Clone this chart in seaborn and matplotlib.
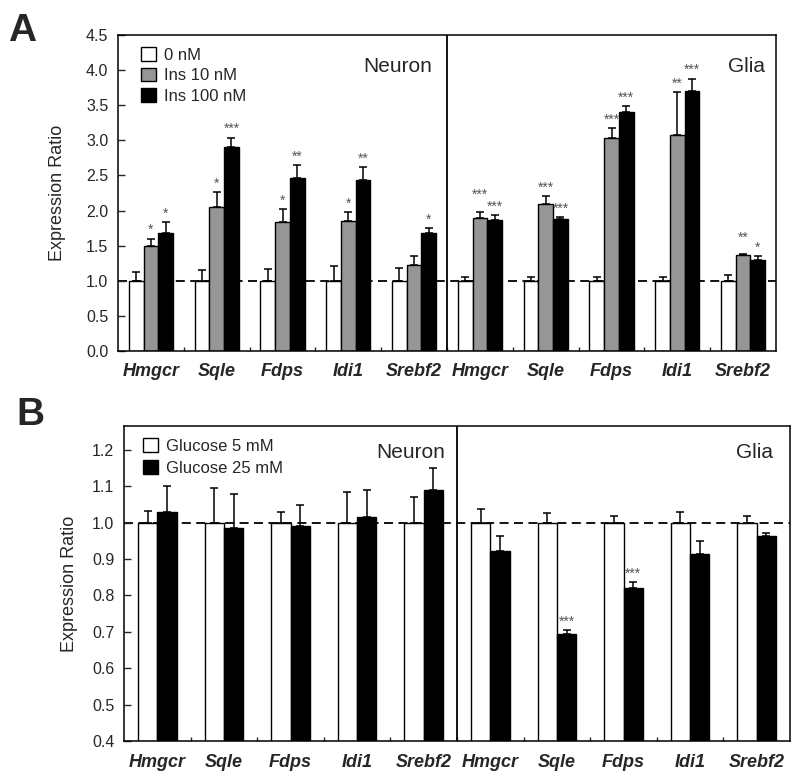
import numpy as np
import pandas as pd
import matplotlib
matplotlib.use('Agg')
import matplotlib.pyplot as plt
import seaborn as sns
from matplotlib.patches import Patch

# genes measured in each cell type
genes = ['Hmgcr', 'Sqle', 'Fdps', 'Idi1', 'Srebf2']
cells = ['Neuron', 'Glia']

# Panel A: insulin treatment (neuron genes first, then glia genes)
ins_levels = ['0 nM', 'Ins 10 nM', 'Ins 100 nM']
ins_mean_0 = [1.0, 1.0, 1.0, 1.0, 1.0, 1.0, 1.0, 1.0, 1.0, 1.0]
ins_err_0 = [0.12, 0.16, 0.17, 0.21, 0.18, 0.06, 0.05, 0.05, 0.05, 0.08]
ins_mean_10 = [1.50, 2.05, 1.83, 1.85, 1.22, 1.90, 2.10, 3.04, 3.07, 1.37]
ins_err_10 = [0.10, 0.21, 0.19, 0.13, 0.13, 0.08, 0.10, 0.13, 0.62, 0.01]
ins_mean_100 = [1.68, 2.90, 2.47, 2.43, 1.68, 1.86, 1.88, 3.40, 3.70, 1.30]
ins_err_100 = [0.15, 0.14, 0.18, 0.19, 0.07, 0.08, 0.03, 0.09, 0.18, 0.05]
ins_sig_0 = [''] * 10
ins_sig_10 = ['*', '*', '*', '*', '', '***', '***', '***', '**', '**']
ins_sig_100 = ['*', '***', '**', '**', '*', '***', '***', '***', '***', '*']

# Panel B: glucose treatment
glc_levels = ['Glucose 5 mM', 'Glucose 25 mM']
glc_mean_5 = [1.0, 1.0, 1.0, 1.0, 1.0, 1.0, 1.0, 1.0, 1.0, 1.0]
glc_err_5 = [0.033, 0.096, 0.029, 0.083, 0.069, 0.038, 0.026, 0.019, 0.029, 0.017]
glc_mean_25 = [1.028, 0.985, 0.990, 1.015, 1.089, 0.923, 0.694, 0.821, 0.913, 0.963]
glc_err_25 = [0.071, 0.092, 0.057, 0.074, 0.062, 0.041, 0.011, 0.015, 0.037, 0.008]
glc_sig_5 = [''] * 10
glc_sig_25 = ['', '', '', '', '', '', '***', '***', '', '']

sns.set_style('ticks')
plt.rcParams['font.family'] = ['Liberation Sans', 'DejaVu Sans']

keys = [f'{c}|{g}' for c in cells for g in genes]


def draw_panel(ax, levels, means, errs, sigs, palette, width, ylim):
    df = pd.DataFrame({
        'key': keys * len(levels),
        'level': np.repeat(levels, len(keys)),
        'ratio': np.concatenate(means),
    })
    ax.axhline(1.0, color='black', ls=(0, (5, 3)), lw=1.3, zorder=0)
    sns.barplot(data=df, x='key', y='ratio', hue='level', order=keys,
                hue_order=levels, palette=palette, saturation=1,
                edgecolor='black', linewidth=1.0, width=width,
                errorbar=None, legend=False, ax=ax, zorder=2)
    ax.set_ylim(*ylim)
    span = ylim[1] - ylim[0]
    xs_all, caps_all = [], []
    for cont, err in zip(ax.containers, errs):
        xs = [p.get_x() + p.get_width() / 2 for p in cont]
        ys = [p.get_height() for p in cont]
        ax.errorbar(xs, ys, yerr=[np.zeros(len(err)), err], fmt='none',
                    ecolor='black', elinewidth=1.1, capsize=3.2,
                    capthick=1.1, zorder=3)
        xs_all.append(xs)
        caps_all.append([y + e for y, e in zip(ys, err)])
    # significance stars; stagger neighbours whose caps are at similar height
    n = len(levels)
    for h in range(n):
        for i, s in enumerate(sigs[h]):
            if not s:
                continue
            lift = 1
            if h + 1 < n and sigs[h + 1][i] and \
                    abs(caps_all[h][i] - caps_all[h + 1][i]) < 0.03 * span:
                lift = 7
            ax.annotate(s, (xs_all[h][i], caps_all[h][i]), xytext=(0, lift),
                        textcoords='offset points', ha='center',
                        va='bottom', fontsize=10, color='#555555')
    ax.axvline(4.5, color='black', lw=1.3)
    ax.set_xlim(-0.5, 9.5)
    ax.set_xticks(range(len(keys)))
    ax.set_xticklabels(genes * 2, fontsize=13, fontweight='bold',
                       fontstyle='italic')
    ax.set_xticks(np.arange(0.5, 9.5, 1.0), minor=True)
    ax.tick_params(axis='x', which='major', length=0, pad=9)
    ax.tick_params(axis='x', which='minor', direction='in', length=3,
                   width=1.0)
    ax.tick_params(axis='y', direction='in', length=5, width=1.0,
                   labelsize=11.5, pad=7)
    ax.set_xlabel('')
    ax.set_ylabel('Expression Ratio', fontsize=13)
    for sp in ax.spines.values():
        sp.set_linewidth(1.1)
        sp.set_color('black')
    handles = [Patch(facecolor=c, edgecolor='black', linewidth=1.0)
               for c in palette]
    return handles


fig = plt.figure(figsize=(8, 7.84), dpi=100)

# Panel A
axA = fig.add_axes([0.1475, 0.5523, 0.8225, 0.4031])
hA = draw_panel(axA, ins_levels,
                [ins_mean_0, ins_mean_10, ins_mean_100],
                [ins_err_0, ins_err_10, ins_err_100],
                [ins_sig_0, ins_sig_10, ins_sig_100],
                ['white', '#969696', 'black'], 0.67, (0, 4.5))
axA.set_yticks(np.arange(0, 4.51, 0.5))
axA.set_yticklabels([f'{v:.1f}' for v in np.arange(0, 4.51, 0.5)])
axA.yaxis.labelpad = 14
axA.legend(hA, ins_levels, loc='upper left', bbox_to_anchor=(0.035, 0.962),
           frameon=False, fontsize=12, handlelength=0.9, handleheight=0.9,
           handletextpad=0.5, labelspacing=0.3, borderaxespad=0,
           borderpad=0)
axA.text(0.477, 0.883, 'Neuron', transform=axA.transAxes, ha='right',
         va='baseline', fontsize=15)
axA.text(0.983, 0.883, 'Glia', transform=axA.transAxes, ha='right',
         va='baseline', fontsize=15)

# Panel B
axB = fig.add_axes([0.155, 0.0548, 0.8325, 0.4018])
hB = draw_panel(axB, glc_levels,
                [glc_mean_5, glc_mean_25],
                [glc_err_5, glc_err_25],
                [glc_sig_5, glc_sig_25],
                ['white', 'black'], 0.58, (0.4, 1.265))
axB.set_yticks(np.arange(0.4, 1.21, 0.1))
axB.set_yticklabels([f'{v:.1f}' for v in np.arange(0.4, 1.21, 0.1)])
axB.yaxis.labelpad = 10
axB.legend(hB, glc_levels, loc='upper left', bbox_to_anchor=(0.0285, 0.962),
           frameon=False, fontsize=12, handlelength=0.9, handleheight=0.9,
           handletextpad=0.5, labelspacing=0.4, borderaxespad=0,
           borderpad=0)
axB.text(0.482, 0.898, 'Neuron', transform=axB.transAxes, ha='right',
         va='baseline', fontsize=15)
axB.text(0.974, 0.898, 'Glia', transform=axB.transAxes, ha='right',
         va='baseline', fontsize=15)

fig.text(0.010, 0.983, 'A', fontsize=28, fontweight='bold', va='top')
fig.text(0.021, 0.494, 'B', fontsize=28, fontweight='bold', va='top')

fig.savefig('out.png', dpi=100)
